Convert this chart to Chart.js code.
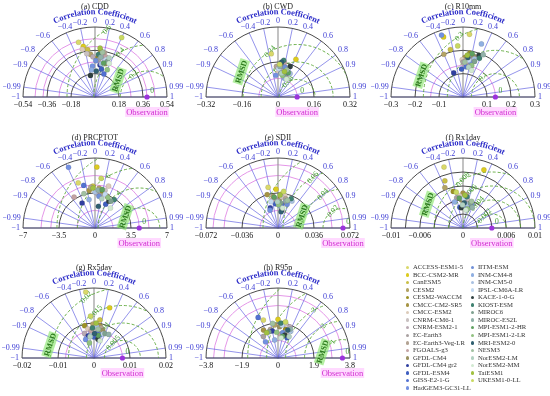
<!DOCTYPE html>
<html>
<head>
<meta charset="utf-8">
<script src="https://cdn.jsdelivr.net/npm/chart.js@4.4.1/dist/chart.umd.min.js"></script>
<style>
  body { margin: 0; background: #fff; }
  #wrap { position: relative; width: 550px; height: 396px; overflow: hidden; font-family: 'Liberation Serif', serif; }
  #wrap canvas { position: absolute; }
  .lg { position: absolute; font-size: 6.7px; line-height: 8px; color: #333; white-space: nowrap; }
  .lg i { display: inline-block; width: 3.4px; height: 3.4px; border-radius: 50%; margin-right: 3.5px; vertical-align: 0px; }
</style>
</head>
<body>
<div id="wrap"></div>
<script>
// models + colours (legend order)
const models = ['ACCESS-ESM1-5','BCC-CSM2-MR','CanESM5','CESM2','CESM2-WACCM','CMCC-CM2-SR5','CMCC-ESM2',
  'CNRM-CM6-1','CNRM-ESM2-1','EC-Earth3','EC-Earth3-Veg-LR','FGOALS-g3','GFDL-CM4','GFDL-CM4 gr2',
  'GFDL-ESM4','GISS-E2-1-G','HadGEM3-GC31-LL','IITM-ESM','INM-CM4-8','INM-CM5-0','IPSL-CM6A-LR',
  'KACE-1-0-G','KIOST-ESM','MIROC6','MIROC-ES2L','MPI-ESM1-2-HR','MPI-ESM1-2-LR','MRI-ESM2-0',
  'NESM3','NorESM2-LM','NorESM2-MM','TaiESM1','UKESM1-0-LL'];
const modelColors = ['#d9d86a','#dccb1e','#c9bf45','#b3a365','#9c9224','#a69444','#dccbb9',
  '#c9c1c1','#b9a9b3','#a9a1a1','#b3a393','#c3a3a3','#99915f','#2f3fa0',
  '#3f5fc0','#5271d2','#7391e2','#6f8fd8','#8fafe2','#a9c1e2','#c3d9f1',
  '#2f3f3f','#3f8170','#7fa190','#91b1a9','#5fa160','#91c181','#2f5f70',
  '#a1c1a1','#b1d1c1','#d1e9d1','#a1c141','#c9d961'];

// correlation rays
const corrTicks = [-1,-0.99,-0.9,-0.8,-0.6,-0.4,-0.2,0,0.2,0.4,0.6,0.8,0.9,0.99,1];

// (a) CDD
const cddStd  = [0.44,0.40,0.37,0.33,0.30,0.36,0.38,0.34,0.31,0.29,0.35,0.32,0.27,0.25,0.22,0.19,0.24,
                 0.28,0.21,0.26,0.30,0.17,0.33,0.29,0.31,0.27,0.23,0.20,0.35,0.32,0.28,0.38,0.50];
const cddCorr = [-0.28,-0.22,-0.15,-0.10,0.05,0.12,-0.25,-0.18,-0.05,0.10,0.20,0.25,0.30,0.15,0.22,0.35,-0.08,
                 0.02,-0.12,0.18,0.28,-0.20,0.08,0.32,0.14,0.24,0.40,0.05,0.16,0.33,0.38,0.10,0.40];
const cddObs = 0.39;
const cddTicks = [-0.54,-0.36,-0.18,0.18,0.36,0.54];
const cddArcs = [0.18,0.36,0.54];
const cddRms = [0.2,0.4,0.6];

// (b) CWD
const cwdStd  = [0.20,0.19,0.14,0.13,0.12,0.15,0.11,0.13,0.12,0.10,0.14,0.16,0.15,0.13,0.12,0.11,0.10,
                 0.14,0.09,0.12,0.13,0.15,0.17,0.11,0.14,0.12,0.10,0.16,0.13,0.11,0.09,0.12,0.15];
const cwdCorr = [-0.15,0.42,0.20,0.05,0.30,0.10,0.00,0.25,0.15,0.35,-0.05,0.18,0.08,0.28,0.40,0.12,-0.10,
                 0.22,0.32,0.45,0.02,0.36,0.15,0.26,0.06,0.38,0.20,0.10,0.30,0.14,0.42,0.24,0.05];
const cwdObs = 0.085;
const cwdTicks = [-0.32,-0.16,0,0.16,0.32];
const cwdArcs = [0.16,0.32];
const cwdRms = [0.08,0.16,0.24];

// (c) R10mm
const r10Std  = [0.27,0.27,0.21,0.20,0.19,0.17,0.16,0.18,0.17,0.15,0.16,0.14,0.18,0.11,0.12,0.13,0.28,
                 0.15,0.24,0.17,0.16,0.19,0.18,0.16,0.20,0.19,0.14,0.17,0.15,0.13,0.12,0.18,0.22];
const r10Corr = [0.10,-0.30,-0.25,-0.40,0.15,0.05,-0.02,0.12,0.20,0.00,0.08,0.18,0.25,-0.35,-0.05,0.10,-0.32,
                 0.22,0.32,0.28,0.15,0.35,0.38,0.30,0.42,0.20,0.26,0.12,0.05,0.18,0.30,0.10,-0.10];
const r10Obs = 0.135;
const r10Ticks = [-0.3,-0.2,-0.1,0.1,0.2,0.3];
const r10Arcs = [0.1,0.2,0.3];
const r10Rms = [0.1,0.2,0.3];

// (d) PRCPTOT
const prcStd  = [4.8,6.1,4.2,4.0,3.6,3.8,4.4,3.9,3.5,3.3,4.1,3.7,3.4,2.8,2.6,4.4,6.6,
                 3.2,2.9,3.6,3.5,3.0,3.4,3.1,3.8,3.9,3.3,2.2,3.6,3.0,2.5,4.0,5.0];
const prcCorr = [-0.34,0.03,-0.05,0.10,0.20,-0.15,0.30,0.25,0.05,0.15,-0.10,-0.55,0.35,-0.45,0.40,-0.25,-0.39,
                 0.12,-0.20,0.00,0.28,0.45,0.55,0.50,0.08,0.18,0.38,0.15,-0.30,0.22,0.60,-0.05,0.12];
const prcObs = 4.3;
const prcTicks = [-7,-3.5,0,3.5,7];
const prcArcs = [3.5,7];
const prcRms = [2,4,6,8];

// (e) SDII
const sdiStd  = [0.043,0.040,0.035,0.033,0.030,0.036,0.034,0.032,0.030,0.028,0.031,0.029,0.027,0.022,0.025,0.024,0.020,
                 0.026,0.023,0.031,0.028,0.019,0.033,0.026,0.029,0.032,0.024,0.017,0.030,0.027,0.021,0.034,0.038];
const sdiCorr = [-0.23,-0.05,0.10,-0.15,0.05,-0.30,0.20,0.12,-0.08,0.00,0.25,-0.20,0.30,-0.35,-0.10,0.15,-0.40,
                 0.35,0.08,0.45,-0.25,0.20,0.40,0.10,0.28,-0.12,0.02,0.18,0.32,-0.02,0.22,0.06,0.15];
const sdiObs = 0.065;
const sdiTicks = [-0.072,-0.036,0,0.036,0.072];
const sdiArcs = [0.036,0.072];
const sdiRms = [0.02,0.04,0.06,0.08];

// (f) Rx1day
const rx1Std  = [0.0091,0.0088,0.0072,0.0063,0.0054,0.0050,0.0046,0.0041,0.0038,0.0044,0.0036,0.0048,0.0040,0.0033,0.0030,0.0027,0.0035,
                 0.0031,0.0039,0.0034,0.0042,0.0029,0.0045,0.0037,0.0032,0.0043,0.0028,0.0036,0.0040,0.0033,0.0026,0.0047,0.0052];
const rx1Corr = [-0.29,0.33,-0.35,-0.40,-0.25,0.00,-0.10,0.15,0.05,-0.20,0.25,0.10,-0.05,0.30,-0.15,0.20,0.35,
                 0.08,-0.30,0.18,0.02,-0.08,0.12,0.28,0.40,-0.12,0.22,0.05,0.30,-0.02,0.15,0.06,-0.18];
const rx1Obs = 0.004;
const rx1Ticks = [-0.01,-0.006,0,0.006,0.01];
const rx1Arcs = [0.002,0.004,0.006,0.008,0.01];
const rx1Rms = [0.002,0.004,0.006,0.008];

// (g) Rx5day
const rx5Std  = [0.0190,0.0150,0.0110,0.0097,0.0096,0.0094,0.0085,0.0080,0.0075,0.0070,0.0088,0.0078,0.0082,0.0065,0.0060,0.0072,0.0058,
                 0.0068,0.0063,0.0090,0.0074,0.0055,0.0086,0.0076,0.0079,0.0066,0.0045,0.0070,0.0083,0.0062,0.0052,0.0100,0.0120];
const rx5Corr = [-0.12,0.29,0.15,-0.03,-0.27,0.17,-0.20,0.05,-0.35,0.10,0.22,-0.10,0.30,-0.25,0.00,0.12,-0.40,
                 0.25,-0.15,0.08,0.35,0.20,-0.05,0.40,0.52,0.18,-0.28,0.02,0.14,-0.18,0.32,0.06,-0.08];
const rx5Obs = 0.0079;
const rx5Ticks = [-0.02,-0.01,0,0.01,0.02];
const rx5Arcs = [0.01,0.02];
const rx5Rms = [0.005,0.01,0.015,0.02];

// (h) R95p
const r95Std  = [2.2,2.1,1.9,1.8,1.6,1.7,1.5,1.9,1.8,1.4,1.6,1.3,1.7,1.5,1.2,2.44,1.1,
                 1.4,1.0,1.6,1.8,1.3,1.9,1.5,1.7,1.2,1.4,1.6,1.9,1.3,1.1,1.5,2.0];
const r95Corr = [-0.35,0.00,0.15,-0.10,0.25,-0.45,0.30,0.22,0.35,-0.55,-0.25,0.10,0.05,-0.20,0.40,-0.43,-0.60,
                 0.18,-0.18,0.42,0.12,0.28,0.08,-0.32,0.38,0.20,-0.05,0.32,-0.15,0.45,0.15,-0.40,0.20];
const r95Obs = 3.4;
const r95Ticks = [-3.8,-1.9,0,1.9,3.8];
const r95Arcs = [1.9,3.8];
const r95Rms = [1,2,3,4,5];

// panel layout (cx, cy = pixel centre of the half disc)
const panels = [
  { title: '(a) CDD',     std: cddStd, corr: cddCorr, obs: cddObs, max: 0.54,  ticks: cddTicks, arcs: cddArcs, rms: cddRms, pink: [0.27,0.45],   cx: 95,  cy: 97,  rmsd: [0.32,0.24] },
  { title: '(b) CWD',     std: cwdStd, corr: cwdCorr, obs: cwdObs, max: 0.32,  ticks: cwdTicks, arcs: cwdArcs, rms: cwdRms, pink: [],            cx: 278, cy: 97,  rmsd: [-0.51,0.36] },
  { title: '(c) R10mm',   std: r10Std, corr: r10Corr, obs: r10Obs, max: 0.3,   ticks: r10Ticks, arcs: r10Arcs, rms: r10Rms, pink: [],            cx: 463, cy: 97,  rmsd: [-0.58,0.31] },
  { title: '(d) PRCPTOT', std: prcStd, corr: prcCorr, obs: prcObs, max: 7,     ticks: prcTicks, arcs: prcArcs, rms: prcRms, pink: [1.75,5.25],   cx: 95,  cy: 228, rmsd: [0.42,0.16] },
  { title: '(e) SDII',    std: sdiStd, corr: sdiCorr, obs: sdiObs, max: 0.072, ticks: sdiTicks, arcs: sdiArcs, rms: sdiRms, pink: [0.018,0.054], cx: 278, cy: 228, rmsd: [0.33,0.17] },
  { title: '(f) Rx1day',  std: rx1Std, corr: rx1Corr, obs: rx1Obs, max: 0.01,  ticks: rx1Ticks, arcs: rx1Arcs, rms: rx1Rms, pink: [],            cx: 463, cy: 228, rmsd: [-0.49,0.34] },
  { title: '(g) Rx5day',  std: rx5Std, corr: rx5Corr, obs: rx5Obs, max: 0.02,  ticks: rx5Ticks, arcs: rx5Arcs, rms: rx5Rms, pink: [],            cx: 94,  cy: 358, rmsd: [-0.61,0.19] },
  { title: '(h) R95p',    std: r95Std, corr: r95Corr, obs: r95Obs, max: 3.8,   ticks: r95Ticks, arcs: r95Arcs, rms: r95Rms, pink: [0.95,2.85],   cx: 278, cy: 358, rmsd: [0.62,0.09] }
];

const FONT = "'Liberation Serif', serif";
const W = 184, H = 118, RX = 72, RY = 70;

function fmt(v) {
  return String(v).replace('-', '\u2212');
}

function taylorPlugin(p) {
  return {
    id: 'taylor',
    beforeDatasetsDraw(chart) {
      const ctx = chart.ctx;
      const xs = chart.scales.x, ys = chart.scales.y;
      const x0 = xs.getPixelForValue(0), y0 = ys.getPixelForValue(0);
      const kx = xs.getPixelForValue(p.max) - x0, ky = y0 - ys.getPixelForValue(p.max);
      const sx = kx / p.max, sy = ky / p.max;

      ctx.save();
      // pink std arcs + observation arc
      ctx.strokeStyle = '#e496e8';
      ctx.lineWidth = 1;
      p.pink.concat([p.obs]).forEach(s => {
        ctx.beginPath();
        ctx.ellipse(x0, y0, s * sx, s * sy, 0, Math.PI, 2 * Math.PI);
        ctx.stroke();
      });

      // correlation rays
      corrTicks.forEach(c => {
        const a = Math.acos(c);
        ctx.strokeStyle = c === 0 ? '#9a9a9a' : 'rgba(96,96,226,0.85)';
        ctx.lineWidth = c === 0 ? 1.2 : 0.8;
        ctx.beginPath();
        ctx.moveTo(x0, y0);
        ctx.lineTo(x0 + kx * Math.cos(a), y0 - ky * Math.sin(a));
        ctx.stroke();
      });

      // black std arcs
      ctx.strokeStyle = '#4a4a4a';
      ctx.lineWidth = 1;
      p.arcs.forEach(s => {
        ctx.beginPath();
        ctx.ellipse(x0, y0, s * sx, s * sy, 0, Math.PI, 2 * Math.PI);
        ctx.stroke();
      });
      // baseline
      ctx.beginPath();
      ctx.moveTo(x0 - kx, y0);
      ctx.lineTo(x0 + kx, y0);
      ctx.stroke();

      // RMSD circles, clipped to the half disc
      const ox = xs.getPixelForValue(p.obs);
      ctx.save();
      ctx.beginPath();
      ctx.ellipse(x0, y0, kx, ky, 0, Math.PI, 2 * Math.PI);
      ctx.closePath();
      ctx.clip();
      ctx.strokeStyle = '#5ea83a';
      ctx.lineWidth = 0.9;
      ctx.setLineDash([3, 2]);
      p.rms.forEach(r => {
        ctx.beginPath();
        ctx.ellipse(ox, y0, r * sx, r * sy, 0, Math.PI, 2 * Math.PI);
        ctx.stroke();
      });
      ctx.restore();

      // RMSD labels
      ctx.fillStyle = '#3f9a2c';
      ctx.font = '7.5px ' + FONT;
      ctx.textAlign = 'center';
      ctx.textBaseline = 'middle';
      const la = 120 * Math.PI / 180;
      p.rms.forEach(r => {
        const vx = p.obs + r * Math.cos(la), vy = r * Math.sin(la);
        if (Math.hypot(vx, vy) > p.max * 0.98) return;
        ctx.save();
        ctx.translate(xs.getPixelForValue(vx), ys.getPixelForValue(vy));
        ctx.rotate(-0.85);
        ctx.fillText(String(r), 0, 0);
        ctx.restore();
      });
      ctx.fillText('0', ox + 5, y0 - 6);
      ctx.restore();
    },
    afterDatasetsDraw(chart) {
      const ctx = chart.ctx;
      const xs = chart.scales.x, ys = chart.scales.y;
      const x0 = xs.getPixelForValue(0), y0 = ys.getPixelForValue(0);
      const kx = xs.getPixelForValue(p.max) - x0, ky = y0 - ys.getPixelForValue(p.max);
      const ox = xs.getPixelForValue(p.obs);
      ctx.save();

      // observation point
      ctx.fillStyle = '#9b34dc';
      ctx.beginPath();
      ctx.arc(ox, y0, 2.6, 0, 2 * Math.PI);
      ctx.fill();

      // title
      ctx.fillStyle = '#222';
      ctx.font = '8px ' + FONT;
      ctx.textAlign = 'center';
      ctx.textBaseline = 'middle';
      ctx.fillText(p.title, x0, y0 - 90);

      // correlation labels
      ctx.fillStyle = '#3c3cd4';
      ctx.font = '8px ' + FONT;
      corrTicks.forEach(c => {
        const a = Math.acos(c);
        const px = x0 + (kx + 3) * Math.cos(a), py = y0 - (ky + 3) * Math.sin(a);
        const ac = Math.abs(c);
        ctx.textAlign = ac <= 0.45 ? 'center' : (c < 0 ? 'right' : 'left');
        ctx.textBaseline = ac < 0.85 ? 'bottom' : 'middle';
        ctx.fillText(fmt(c), px, py + (ac < 0.85 ? 1 : 0));
      });

      // curved "Correlation Coefficient"
      const txt = 'Correlation Coefficient';
      ctx.font = 'bold 8.5px ' + FONT;
      ctx.fillStyle = '#2b2bc8';
      ctx.textAlign = 'center';
      ctx.textBaseline = 'middle';
      const rxT = kx + 16, ryT = ky + 15;
      const widths = [...txt].map(ch => ctx.measureText(ch).width);
      const total = widths.reduce((s, w) => s + w, 0);
      const rMean = (rxT + ryT) / 2;
      let acc = 0;
      [...txt].forEach((ch, i) => {
        const a = Math.PI / 2 + total / 2 / rMean - (acc + widths[i] / 2) / rMean;
        acc += widths[i];
        ctx.save();
        ctx.translate(x0 + rxT * Math.cos(a), y0 - ryT * Math.sin(a));
        ctx.rotate(Math.PI / 2 - a);
        ctx.fillText(ch, 0, 0);
        ctx.restore();
      });

      // std tick labels under the baseline
      ctx.fillStyle = '#111';
      ctx.font = '8px ' + FONT;
      ctx.textBaseline = 'middle';
      ctx.textAlign = 'center';
      p.ticks.forEach(t => {
        ctx.fillText(fmt(t), xs.getPixelForValue(t), y0 + 8);
      });

      // Observation tag
      ctx.font = '8.5px ' + FONT;
      const ow = ctx.measureText('Observation').width;
      ctx.fillStyle = 'rgba(255,170,255,0.45)';
      ctx.fillRect(ox - ow / 2 - 1, y0 + 10, ow + 2, 10);
      ctx.fillStyle = '#d12cd1';
      ctx.fillText('Observation', ox, y0 + 15.5);

      // RMSD tag
      ctx.save();
      ctx.translate(x0 + p.rmsd[0] * kx, y0 - p.rmsd[1] * ky);
      ctx.rotate(-1.25);
      ctx.font = 'bold 8px ' + FONT;
      const rw = ctx.measureText('RMSD').width;
      ctx.fillStyle = 'rgba(130,226,100,0.6)';
      ctx.fillRect(-rw / 2 - 1, -5, rw + 2, 10);
      ctx.fillStyle = '#2c7a1c';
      ctx.fillText('RMSD', 0, 0.5);
      ctx.restore();

      ctx.restore();
    }
  };
}

const wrap = document.getElementById('wrap');

panels.forEach(p => {
  const canvas = document.createElement('canvas');
  canvas.width = W;
  canvas.height = H;
  canvas.style.left = (p.cx - 92) + 'px';
  canvas.style.top = (p.cy - 97) + 'px';
  wrap.appendChild(canvas);

  const pts = p.std.map((s, i) => ({
    x: s * p.corr[i],
    y: s * Math.sqrt(1 - p.corr[i] * p.corr[i])
  }));

  new Chart(canvas, {
    type: 'scatter',
    data: {
      datasets: [{
        data: pts,
        pointBackgroundColor: modelColors,
        pointBorderColor: 'rgba(60,60,60,0.3)',
        pointBorderWidth: 0.4,
        pointRadius: 2.6,
        clip: 6
      }]
    },
    options: {
      responsive: false,
      animation: false,
      events: [],
      layout: { padding: { left: 92 - RX, right: W - 92 - RX, top: 97 - RY, bottom: H - 97 } },
      plugins: { legend: { display: false }, tooltip: { enabled: false } },
      scales: {
        x: { type: 'linear', min: -p.max, max: p.max, display: false },
        y: { type: 'linear', min: 0, max: p.max, display: false }
      }
    },
    plugins: [taylorPlugin(p)]
  });
});

// legend, two columns
models.forEach((m, i) => {
  const col = i < 17 ? 0 : 1;
  const row = col === 0 ? i : i - 17;
  const d = document.createElement('div');
  d.className = 'lg';
  d.style.left = (col === 0 ? 406 : 471) + 'px';
  d.style.top = (263 + row * 7.55) + 'px';
  d.innerHTML = `<i style="background:${modelColors[i]}"></i>${m}`;
  wrap.appendChild(d);
});
</script>
</body>
</html>
